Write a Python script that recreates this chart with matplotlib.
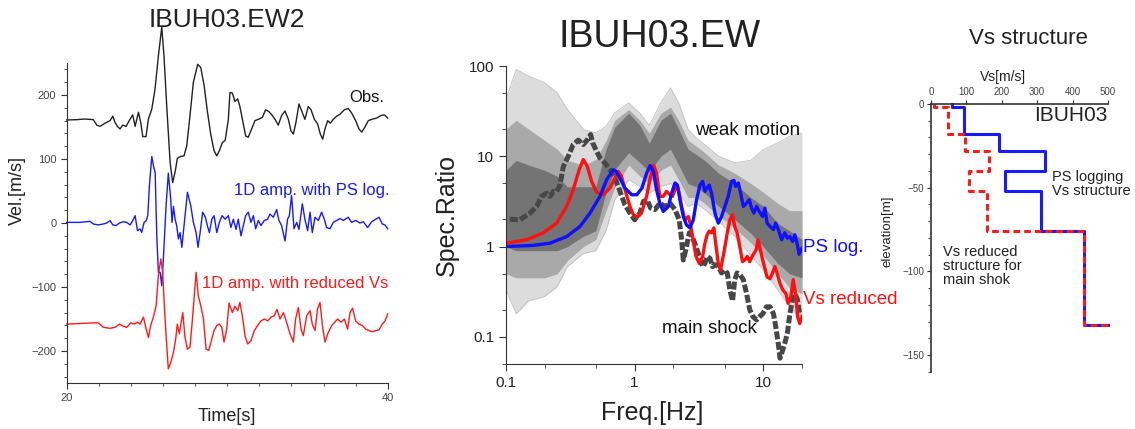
import numpy as np
import matplotlib
matplotlib.use("Agg")
import matplotlib.pyplot as plt
from matplotlib.ticker import MultipleLocator, FixedLocator, NullFormatter, LogLocator

plt.rcParams['font.family'] = ['Liberation Sans', 'DejaVu Sans']

# ---- left panel: velocity traces (t [s], vel [m/s], as plotted with offsets)
obs = [(20.0, 161), (20.62, 161.5), (21.14, 162.5), (21.66, 161.5), (21.87, 153), (22.08, 151),
       (22.39, 156), (22.70, 160), (22.87, 167), (23.01, 157), (23.16, 151), (23.32, 147),
       (23.49, 153), (23.70, 151), (23.95, 162.5), (24.11, 169), (24.26, 151), (24.47, 173),
       (24.61, 157), (24.74, 135), (24.94, 135), (25.09, 162.5), (25.30, 178), (25.50, 209),
       (25.71, 261), (25.92, 306), (26.06, 261), (26.23, 183), (26.44, 95), (26.60, 63),
       (26.77, 82), (26.89, 101), (27.10, 104), (27.31, 105), (27.48, 121), (27.68, 168),
       (27.89, 220), (28.16, 248), (28.35, 243), (28.56, 215), (28.76, 175), (28.97, 139),
       (29.18, 113), (29.35, 105), (29.51, 113), (29.70, 126), (29.87, 129), (30.07, 162),
       (30.17, 204), (30.32, 203), (30.48, 190), (30.65, 194), (30.79, 182), (31.00, 155),
       (31.15, 136), (31.31, 134), (31.52, 147), (31.73, 160), (31.94, 162), (32.19, 165),
       (32.39, 177), (32.60, 174), (32.81, 168), (32.98, 162), (33.18, 153), (33.39, 168),
       (33.60, 175), (33.81, 162), (33.97, 144), (34.12, 139), (34.28, 157), (34.47, 186),
       (34.64, 175), (34.84, 162), (35.05, 182), (35.22, 177), (35.43, 162), (35.63, 155),
       (35.80, 139), (35.95, 131), (36.09, 147), (36.26, 160), (36.42, 156), (36.61, 162),
       (36.82, 167), (37.03, 170), (37.30, 177), (37.54, 179), (37.75, 172), (38.00, 160),
       (38.21, 147), (38.38, 142), (38.58, 150), (38.79, 160), (39.00, 162), (39.31, 164),
       (39.58, 168), (39.79, 169), (40.00, 164)]
ps_log = [(20.0, 1), (20.83, 1), (21.45, 2.6), (21.66, -1.5), (21.97, -3), (22.28, -1.5),
          (22.49, 0), (22.70, 3.7), (22.87, -3), (23.07, -4), (23.28, 0), (23.53, 2), (23.74, 1),
          (23.95, -3), (24.11, 3.7), (24.26, 11.5), (24.41, -12), (24.57, -9.3), (24.67, -14.6),
          (24.82, 1), (24.95, 3.7), (25.05, 11.5), (25.15, 58), (25.30, 104), (25.40, 90),
          (25.51, 79), (25.61, -20), (25.71, -77), (25.82, -77), (25.92, -98), (26.02, -56),
          (26.19, 27), (26.33, 78), (26.48, 37.5), (26.56, 1), (26.65, 26), (26.75, 6),
          (26.85, -4), (26.96, -25), (27.06, -15), (27.17, -38), (27.31, -4), (27.52, 48),
          (27.73, 27), (27.89, 1), (28.06, -15), (28.18, -38), (28.31, -15), (28.47, 17),
          (28.64, 9), (28.76, -4), (28.89, -15), (29.04, 6), (29.18, 11.5), (29.35, -15),
          (29.51, 1), (29.68, 11.5), (29.87, 6), (30.07, 11.5), (30.23, -7), (30.38, 6),
          (30.55, -10), (30.69, 6), (30.86, -20), (31.00, -4), (31.15, 11.5), (31.31, 17),
          (31.48, 1), (31.63, 11.5), (31.77, -9), (31.94, 4), (32.10, -4), (32.31, 4),
          (32.52, 6), (32.66, 14), (32.87, 9), (33.08, 21), (33.22, 4), (33.39, -4),
          (33.60, -28), (33.76, 6), (33.87, 11.5), (34.01, 43), (34.16, -9), (34.33, 1),
          (34.47, -10), (34.68, 30), (34.84, 6), (35.01, -12), (35.16, 17), (35.30, -15),
          (35.47, 9), (35.68, 4), (35.88, 17), (36.05, 6), (36.19, -7), (36.40, -9),
          (36.61, 1), (36.82, 4), (37.03, 7), (37.23, 4), (37.54, 9), (37.75, 1), (38.00, 4),
          (38.27, 0), (38.48, 2), (38.75, -7), (39.00, 2), (39.25, 6), (39.46, 9),
          (39.66, -1.5), (39.83, -3), (40.00, -9)]
reduced = [(20.0, -158), (20.83, -157), (21.66, -156), (21.97, -156), (22.28, -163),
           (22.70, -164.5), (23.01, -163), (23.28, -158), (23.49, -161), (23.74, -163),
           (23.99, -156), (24.20, -158), (24.41, -155), (24.57, -158), (24.78, -147),
           (24.95, -166), (25.09, -179), (25.23, -160), (25.40, -147), (25.57, -129),
           (25.71, -82), (25.86, -56), (25.98, -77), (26.06, -119), (26.19, -176),
           (26.33, -228), (26.48, -218), (26.65, -202), (26.79, -181), (26.89, -158),
           (27.02, -173), (27.10, -160), (27.23, -140), (27.37, -179), (27.52, -197),
           (27.68, -194), (27.85, -145), (28.06, -77), (28.20, -114), (28.35, -129),
           (28.52, -150), (28.68, -197), (28.85, -199), (29.04, -181), (29.18, -168),
           (29.35, -160), (29.51, -158), (29.66, -163), (29.80, -186), (29.97, -166),
           (30.11, -125), (30.32, -140), (30.48, -130), (30.65, -137), (30.79, -124),
           (30.94, -145), (31.11, -176), (31.27, -189), (31.48, -184), (31.69, -168),
           (31.90, -160), (32.10, -153), (32.31, -150), (32.52, -153), (32.73, -147),
           (32.93, -145), (33.10, -135), (33.29, -150), (33.50, -140), (33.70, -155),
           (33.91, -173), (34.12, -186), (34.26, -150), (34.43, -132), (34.60, -166),
           (34.74, -176), (34.95, -145), (35.16, -137), (35.30, -158), (35.47, -168),
           (35.63, -134), (35.78, -124), (35.93, -160), (36.09, -186), (36.30, -171),
           (36.51, -160), (36.67, -156), (36.88, -150), (37.09, -155), (37.30, -150),
           (37.50, -166), (37.65, -140), (37.81, -133), (38.00, -153), (38.21, -158),
           (38.42, -160), (38.63, -166), (38.83, -168), (39.04, -170), (39.25, -168),
           (39.46, -167), (39.66, -158), (39.83, -153), (40.00, -142)]

# ---- middle panel: spectral ratios (freq [Hz], ratio)
blue_sr = [(0.1, 1.0), (0.163, 1.03), (0.22, 1.09), (0.296, 1.29), (0.376, 1.67), (0.45, 2.35),
           (0.538, 3.6), (0.606, 5.5), (0.682, 7.1), (0.72, 6.8), (0.78, 5.5), (0.84, 4.45),
           (0.95, 3.75), (1.04, 3.75), (1.14, 4.45), (1.24, 6.5), (1.32, 7.9), (1.40, 6.8),
           (1.48, 4.26), (1.57, 3.03), (1.67, 2.45), (1.83, 2.78), (1.94, 3.91), (2.06, 5.06),
           (2.15, 4.8), (2.25, 3.3), (2.39, 2.15), (2.53, 1.74), (2.69, 1.61), (2.86, 1.98),
           (3.03, 3.3), (3.22, 4.8), (3.38, 5.28), (3.52, 4.09), (3.66, 4.45), (3.80, 4.8),
           (3.96, 3.91), (4.21, 2.35), (4.47, 1.82), (4.74, 2.15), (5.03, 2.78), (5.34, 3.6),
           (5.67, 5.28), (5.92, 5.4), (6.1, 4.64), (6.4, 5.06), (6.67, 3.91), (7.0, 2.78),
           (7.42, 3.03), (7.78, 3.3), (8.11, 2.67), (8.45, 2.35), (8.87, 2.78), (9.3, 2.45),
           (9.88, 2.15), (10.3, 2.67), (10.7, 1.82), (11.3, 1.67), (12.0, 1.54), (12.5, 1.82),
           (13.1, 1.54), (13.9, 1.19), (14.7, 1.42), (15.4, 1.24), (16.1, 1.29), (16.9, 1.14),
           (17.6, 1.35), (18.4, 1.05), (19.0, 0.82), (19.9, 0.95)]
red_sr = [(0.1, 1.09), (0.145, 1.19), (0.195, 1.42), (0.248, 1.82), (0.296, 2.78), (0.333, 4.26),
          (0.371, 7.1), (0.399, 9.2), (0.429, 7.7), (0.463, 5.28), (0.507, 4.0), (0.571, 3.75),
          (0.643, 4.45), (0.703, 5.75), (0.746, 6.8), (0.79, 6.0), (0.857, 3.91), (0.92, 2.78),
          (0.978, 2.25), (1.05, 2.12), (1.13, 2.35), (1.24, 3.6), (1.33, 6.0), (1.41, 7.9),
          (1.48, 6.5), (1.57, 3.6), (1.67, 3.6), (1.77, 4.09), (1.88, 3.75), (1.97, 3.6),
          (2.06, 4.26), (2.15, 4.64), (2.22, 3.91), (2.32, 2.78), (2.46, 1.98), (2.61, 2.15),
          (2.72, 1.74), (2.86, 1.14), (3.0, 0.78), (3.18, 0.65), (3.38, 0.78), (3.52, 1.09),
          (3.66, 1.35), (3.80, 1.48), (3.96, 1.42), (4.13, 1.61), (4.28, 1.05), (4.47, 0.65),
          (4.65, 0.55), (4.94, 0.85), (5.25, 1.42), (5.5, 1.98), (5.77, 2.25), (6.0, 1.67),
          (6.26, 1.42), (6.57, 1.0), (6.9, 0.68), (7.2, 0.71), (7.5, 0.78), (7.85, 0.68),
          (8.2, 0.78), (8.8, 0.92), (9.1, 1.19), (9.5, 0.92), (9.9, 0.71), (10.3, 0.57),
          (10.7, 0.46), (11.3, 0.44), (11.8, 0.51), (12.3, 0.6), (12.8, 0.51), (13.5, 0.39),
          (14.2, 0.33), (15.0, 0.30), (15.6, 0.235), (16.4, 0.28), (17.1, 0.43), (17.8, 0.30),
          (18.5, 0.168), (19.2, 0.14), (20.0, 0.168)]
main_shock = [(0.107, 2.01), (0.128, 1.98), (0.154, 2.35), (0.173, 2.78), (0.189, 3.6),
              (0.207, 3.91), (0.22, 3.6), (0.234, 4.09), (0.248, 4.09), (0.263, 4.8),
              (0.279, 7.7), (0.305, 10), (0.333, 13.5), (0.365, 15.1), (0.399, 13.5),
              (0.43, 15.3), (0.455, 17.4), (0.472, 14.1), (0.507, 11.3), (0.538, 9.6),
              (0.588, 8.4), (0.643, 7.1), (0.703, 5.75), (0.77, 4.09), (0.84, 2.9), (0.92, 2.35),
              (1.0, 1.98), (1.1, 2.35), (1.17, 3.16), (1.25, 3.3), (1.33, 2.67), (1.44, 2.57),
              (1.57, 3.03), (1.72, 2.78), (1.88, 3.03), (2.06, 2.57), (2.22, 1.98), (2.32, 1.19),
              (2.39, 0.71), (2.5, 0.92), (2.66, 1.42), (2.8, 1.29), (3.0, 1.0), (3.18, 0.78),
              (3.38, 0.6), (3.52, 0.65), (3.66, 0.78), (3.85, 0.74), (4.03, 0.6), (4.21, 0.63),
              (4.47, 0.6), (4.74, 0.51), (4.94, 0.55), (5.25, 0.51), (5.5, 0.33), (5.77, 0.25),
              (6.0, 0.43), (6.26, 0.51), (6.57, 0.49), (7.0, 0.43), (7.42, 0.30), (7.85, 0.2),
              (8.3, 0.168), (8.87, 0.154), (9.4, 0.168), (9.9, 0.18), (10.6, 0.215),
              (11.3, 0.215), (12.0, 0.18), (12.5, 0.13), (13.1, 0.083), (13.5, 0.058),
              (14.1, 0.07), (14.7, 0.085), (15.4, 0.11), (16.1, 0.18), (16.9, 0.26),
              (17.6, 0.30), (18.4, 0.26), (19.2, 0.18)]
# weak motion bundle: sparse spread, moderate band and dense core, read at these frequencies
wm_freq = [0.1, 0.12, 0.15, 0.2, 0.25, 0.3, 0.4, 0.5, 0.6, 0.7, 0.9, 1.1, 1.3, 1.6, 1.9, 2.2,
           2.6, 3.0, 3.5, 4.5, 6, 8, 10, 13, 16, 20]
wm_outer_hi = [42.6, 91.8, 77.4, 65.3, 50.6, 33.0, 19.8, 18.2, 21.5, 30.3, 39, 30, 22, 39.2,
               57.4, 39.2, 20, 16, 13.5, 10, 8.5, 9, 11.9, 14.1, 16.7, 18.2]
wm_outer_lo = [0.33, 0.18, 0.25, 0.28, 0.36, 0.60, 0.84, 0.9, 1.5, 3.3, 5.5, 4.64, 3.91, 4.64,
               5.0, 4.0, 2.78, 3.0, 2.6, 1.9, 1.3, 0.8, 0.55, 0.33, 0.215, 0.154]
wm_mid_hi = [20, 25, 20, 15, 12, 9, 8, 9.2, 15, 25, 33, 25, 18, 30, 35, 25, 15, 13, 11, 8, 6.5,
             5, 4, 3, 2.5, 2.5]
wm_mid_lo = [0.5, 0.45, 0.45, 0.45, 0.5, 0.7, 1.0, 1.2, 2.5, 4.5, 8, 6, 5, 7, 8, 5.5, 3.5, 3.5,
             3, 2.2, 1.6, 1.1, 0.8, 0.5, 0.35, 0.3]
wm_core_hi = [7, 9, 8, 7, 6, 4.6, 4.6, 4.6, 12, 21, 30, 22, 14, 25, 30, 20, 12, 10.5, 9, 6.5, 5,
              3.5, 2.8, 1.8, 1.5, 1.2]
wm_core_lo = [1.0, 0.9, 0.9, 0.9, 0.9, 1.0, 1.3, 1.5, 4, 7.1, 11, 8.5, 6.8, 10, 12, 8, 5, 4.6,
              3.9, 2.8, 2.0, 1.4, 1.0, 0.65, 0.5, 0.45]

# ---- right panel: Vs layers (depth bounds [m], Vs [m/s])
layer_bounds = [0, 1.6, 18, 28, 40, 52, 75.7, 132]
vs_ps_logging = [60, 93, 193, 321, 210, 311, 432, 500]
vs_reduced = [8, 47, 97, 163, 106, 158, 432, 500]


def step_profile(bounds, vs):
    xs, ys = [], []
    for i in range(len(bounds) - 1):
        xs += [vs[i], vs[i]]
        ys += [-bounds[i], -bounds[i + 1]]
    xs.append(vs[-1])
    ys.append(-bounds[-1])
    return xs, ys


fig = plt.figure(figsize=(11.35, 4.29), dpi=100)
spine_c = '#333333'
tick_c = '#444444'

# ================= left
ax1 = fig.add_axes([0.0588, 0.1072, 0.2828, 0.7459])
for data, col in [(obs, '#222222'), (ps_log, '#1a1aff'), (reduced, '#ff1a1a')]:
    t, v = np.array(data).T
    ax1.plot(t, v, color=col, lw=1.0, clip_on=False)
ax1.set_xlim(20, 40)
ax1.set_ylim(-250, 250)
ax1.set_xticks([20, 40])
ax1.xaxis.set_minor_locator(MultipleLocator(2))
ax1.set_yticks([-200, -100, 0, 100, 200])
ax1.set_yticklabels(['\u2212200', '\u2212100', '0', '100', '200'])
ax1.yaxis.set_minor_locator(MultipleLocator(20))
for s in ['top', 'right']:
    ax1.spines[s].set_visible(False)
for s in ['left', 'bottom']:
    ax1.spines[s].set_color(spine_c)
ax1.tick_params(which='both', direction='out', colors=spine_c, labelcolor=tick_c, labelsize=8)
ax1.tick_params(which='major', length=4)
ax1.tick_params(which='minor', length=2.5)
ax1.text(39.8, 196, 'Obs.', fontsize=12, color='#111111', ha='right', va='center')
ax1.text(40.1, 51, '1D amp. with PS log.', fontsize=12, color='#1a1aff', ha='right', va='center')
ax1.text(28.4, -95, '1D amp. with reduced Vs', fontsize=12, color='#ff1a1a', ha='left',
         va='center', clip_on=False)
fig.text(0.2, 0.953, 'IBUH03.EW2', fontsize=19, ha='center', va='center', color='#222222')
fig.text(0.015, 0.555, 'Vel.[m/s]', fontsize=13, rotation=90, ha='center', va='center',
         color='#222222')
fig.text(0.2, 0.028, 'Time[s]', fontsize=13, ha='center', va='center', color='#222222')

# ================= middle
ax2 = fig.add_axes([0.4458, 0.1515, 0.2608, 0.6946])
ax2.set_xscale('log')
ax2.set_yscale('log')
ax2.fill_between(wm_freq, wm_outer_lo, wm_outer_hi, color='#dcdcdc', lw=0)
ax2.plot(wm_freq, wm_outer_hi, color='#c0c0c0', lw=0.6)
ax2.plot(wm_freq, wm_outer_lo, color='#c0c0c0', lw=0.6)
ax2.fill_between(wm_freq, wm_mid_lo, wm_mid_hi, color='#a9a9a9', lw=0)
ax2.fill_between(wm_freq, wm_core_lo, wm_core_hi, color='#747474', lw=0)
f, r = np.array(main_shock).T
ax2.plot(f, r, color='#474747', lw=3.6, ls=(0, (1.6, 0.5)))
f, r = np.array(red_sr).T
ax2.plot(f, r, color='#ff1010', lw=2.4)
f, r = np.array(blue_sr).T
ax2.plot(f, r, color='#1010ff', lw=2.4)
ax2.set_xlim(0.1, 20)
ax2.set_ylim(0.05, 100)
ax2.xaxis.set_major_locator(FixedLocator([0.1, 1, 10]))
ax2.set_xticklabels(['0.1', '1', '10'])
ax2.yaxis.set_major_locator(FixedLocator([0.1, 1, 10, 100]))
ax2.set_yticklabels(['0.1', '1', '10', '100'])
ax2.xaxis.set_minor_locator(LogLocator(base=10, subs=(2, 5)))
ax2.yaxis.set_minor_locator(LogLocator(base=10, subs=(2, 5)))
ax2.xaxis.set_minor_formatter(NullFormatter())
ax2.yaxis.set_minor_formatter(NullFormatter())
for s in ['top', 'right']:
    ax2.spines[s].set_visible(False)
for s in ['left', 'bottom']:
    ax2.spines[s].set_color(spine_c)
ax2.tick_params(which='both', direction='out', colors=spine_c, labelcolor='#222222', labelsize=11)
ax2.tick_params(which='major', length=5)
ax2.tick_params(which='minor', length=3)
ax2.text(19.5, 19.5, 'weak motion', fontsize=13.5, ha='right', va='center', color='#111111')
ax2.text(3.8, 0.125, 'main shock', fontsize=13.5, ha='center', va='center', color='#111111')
ax2.text(20.2, 0.98, 'PS log.', fontsize=13.5, ha='left', va='center', color='#1010ff',
         clip_on=False)
ax2.text(20.2, 0.26, 'Vs reduced', fontsize=13.5, ha='left', va='center', color='#ff1010',
         clip_on=False)
fig.text(0.581, 0.913, 'IBUH03.EW', fontsize=27, ha='center', va='center', color='#222222')
fig.text(0.394, 0.50, 'Spec.Ratio', fontsize=18, rotation=90, ha='center', va='center',
         color='#222222')
fig.text(0.575, 0.037, 'Freq.[Hz]', fontsize=18, ha='center', va='center', color='#222222')

# ================= right
ax3 = fig.add_axes([0.8203, 0.1329, 0.1559, 0.6247])
x, y = step_profile(layer_bounds, vs_ps_logging)
ax3.plot(x, y, color='#1a1aff', lw=2.2, clip_on=False)
x, y = step_profile(layer_bounds, vs_reduced)
ax3.plot(x, y, color='#ff1a1a', lw=2.2, ls=(0, (2.2, 1.3)), clip_on=False)
ax3.set_xlim(0, 500)
ax3.set_ylim(-160, 0)
ax3.xaxis.tick_top()
ax3.set_xticks([0, 100, 200, 300, 400, 500])
ax3.set_yticks([0, -50, -100, -150])
ax3.set_yticklabels(['0', '\u221250', '\u2212100', '\u2212150'])
ax3.yaxis.set_minor_locator(MultipleLocator(10))
for s in ['bottom', 'right']:
    ax3.spines[s].set_visible(False)
for s in ['left', 'top']:
    ax3.spines[s].set_color(spine_c)
    ax3.spines[s].set_linewidth(1.2)
ax3.tick_params(which='both', direction='out', colors=spine_c, labelcolor=tick_c, labelsize=7,
                pad=2)
ax3.tick_params(which='major', length=3)
ax3.tick_params(which='minor', length=2)
ax3.text(500, -7, 'IBUH03', fontsize=15, ha='right', va='center', color='#222222')
ax3.text(343, -48, 'PS logging\nVs structure', fontsize=10.5, ha='left', va='center',
         color='#222222', linespacing=1.0)
ax3.text(34, -97, 'Vs reduced\nstructure for\nmain shok', fontsize=10.5, ha='left',
         va='center', color='#222222', linespacing=1.0)
fig.text(0.906, 0.911, 'Vs structure', fontsize=16, ha='center', va='center', color='#222222')
fig.text(0.884, 0.820, 'Vs[m/s]', fontsize=10, ha='center', va='center', color='#222222')
fig.text(0.782, 0.46, 'elevation[m]', fontsize=9.5, rotation=90, ha='center', va='center',
         color='#222222')

fig.savefig('out.png', dpi=100)
